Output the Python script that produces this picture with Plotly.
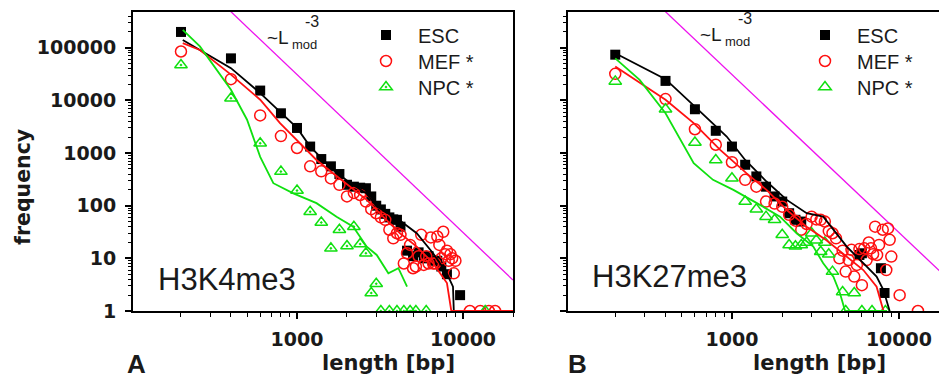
import plotly.graph_objects as go

W, H = 939, 378

# ---------------- Panel A : H3K4me3 ----------------
A_ESC_X = [200, 400, 600, 800, 1000, 1200, 1400, 1600, 1800, 2000, 2200, 2400, 2600, 2800, 3000,
           3200, 3400, 3600, 3800, 4000, 4200, 4600, 5000, 5400, 5800, 6200, 6600, 7000, 7400, 8000, 9600]
A_ESC_Y = [200000, 63000, 15400, 5700, 3000, 1330, 770, 560, 400, 250, 230, 220, 215, 150, 100,
           85, 70, 60, 55, 54, 40, 14, 11, 13, 10, 11, 9, 9, 7, 5, 2]

A_MEF_X = [200, 400, 600, 800, 1000, 1200, 1400, 1600, 1800, 2000, 2200, 2400, 2600, 2800, 3000,
           3200, 3400, 3600, 3800, 4000, 4200, 4400, 4600, 4800, 5000, 5200, 5400, 5600, 5800, 6000,
           6200, 6400, 6600, 6800, 7000, 7200, 7400, 7600, 7800, 8000, 8200, 8400, 8600, 8800, 9000,
           11000, 12700, 14300, 15600]
A_MEF_Y = [85000, 25400, 5200, 2100, 1250, 560, 450, 330, 250, 150, 175, 160, 120, 86, 72,
           60, 54, 35, 24, 30, 28, 8, 12.5, 18, 6.5, 7, 11, 28, 7.5, 11,
           8, 25, 8, 8, 26, 18, 10, 32, 12, 14, 9, 12, 10, 5.2, 9,
           1, 1, 1, 1]

A_NPC_X = [200, 400, 600, 800, 1000, 1200, 1400, 1600, 1800, 2000, 2200, 2400, 2600, 2800, 3000,
           3200, 3600, 4000, 4400, 4800, 5200, 6000, 13600]
A_NPC_Y = [47000, 11000, 1540, 445, 194, 77, 48, 15.5, 35, 17.2, 40, 18.7, 12.5, 2.2, 3.3,
           1, 1, 1, 1, 1, 1, 1, 1]

A_ESC_LX = [205, 260, 400, 600, 830, 1000, 1200, 1650, 2090, 2630, 3020, 4000, 5260, 6600, 7980, 8700, 8800]
A_ESC_LY = [141000, 91000, 41000, 13800, 5300, 3000, 1330, 480, 270, 170, 96, 58, 30, 12.5, 5.2, 2.9, 1]

A_MEF_LX = [205, 260, 400, 600, 790, 1000, 1310, 1650, 2090, 2630, 3300, 4170, 5260, 6600, 8000, 8500, 9500, 20000]
A_MEF_LY = [123000, 91000, 31000, 10300, 3700, 1780, 740, 415, 230, 129, 62, 30, 16.7, 8.1, 3.4, 1, 1, 1]

A_NPC_LX = [205, 260, 400, 500, 600, 720, 950, 1310, 1730, 2180, 2630, 3020, 3550, 4080, 4600]
A_NPC_LY = [219000, 106000, 15900, 4300, 850, 268, 172, 112, 62, 40, 16.7, 11.6, 5.2, 6.5, 2.9]

# ---------------- Panel B : H3K27me3 ----------------
B_ESC_X = [200, 400, 600, 800, 1000, 1200, 1400, 1600, 1800, 2000, 2200, 2400, 2600, 5800, 6000, 7800, 8200]
B_ESC_Y = [74000, 23500, 6800, 2650, 1330, 600, 360, 230, 150, 120, 72, 54, 50, 11.6, 12.5, 6.5, 2.2]

B_MEF_X = [200, 400, 600, 800, 1000, 1200, 1400, 1600, 1800, 2000, 2200, 2400, 2600, 2800, 3000,
           3200, 3400, 3600, 3800, 4000, 4200, 4400, 4600, 4800, 5000, 5200, 5400, 5600, 5800, 6000,
           6200, 6400, 6600, 6800, 7000, 7200, 7400, 7600, 8000, 8400, 8600, 8800, 9000, 10100, 13000]
B_MEF_Y = [32000, 10600, 2840, 1440, 670, 310, 230, 120, 110, 96, 67, 52, 35, 45, 62,
           55, 54, 50, 33, 30, 24, 10, 14, 5.6, 9.3, 14.5, 4.5, 7.5, 15, 3.1,
           15.5, 9.3, 20, 15.5, 12, 40, 11.6, 18, 35, 6, 37, 22.5, 10.8, 2, 1]

B_NPC_X = [200, 400, 600, 800, 1000, 1200, 1400, 1600, 1800, 2000, 2200, 2400, 2600, 2800, 3000,
           3200, 3400, 3600, 3800, 4000, 4600, 5400, 4800, 6000, 6900, 8300]
B_NPC_Y = [23000, 6800, 1590, 740, 333, 120, 86, 62, 54, 28, 18, 17, 18, 20, 30,
           22, 13.4, 20, 12, 5.6, 2.3, 2.2, 1, 1, 1, 1]

B_ESC_LX = [200, 400, 600, 930, 1200, 1610, 2130, 2800, 3520, 4230, 4870, 6120, 7350, 8080, 8800]
B_ESC_LY = [79000, 25400, 7600, 2060, 740, 288, 129, 72, 62, 30, 16.7, 8.1, 4.5, 2.5, 1]

B_MEF_LX = [200, 400, 590, 850, 1220, 1610, 2130, 2800, 3680, 4870, 6120, 7350, 8080]
B_MEF_LY = [44000, 10300, 3700, 1150, 415, 200, 83, 40, 22, 10.8, 6, 2.9, 1]

B_NPC_LX = [200, 280, 400, 490, 590, 770, 1020, 1410, 1940, 2440, 3070, 3520, 4050, 4430, 4760, 8500]
B_NPC_LY = [63000, 24600, 5700, 1780, 640, 310, 200, 112, 62, 30, 16.7, 8.1, 4.5, 2.2, 1, 1]

# guide line ~ L^-3
GUIDE_COEF = 3.1e13
GUIDE_X = [300, 400, 1000, 5000, 20000]
GUIDE_Y = [GUIDE_COEF * x ** -3 for x in GUIDE_X]

SERIES_NAMES = ["ESC", "MEF *", "NPC *"]
TICK_Y_VALS = [1, 10, 100, 1000, 10000, 100000]
TICK_Y_TEXT = ["1", "10", "100", "1000", "10000", "100000"]
TICK_X_VALS = [1000, 10000]
TICK_X_TEXT = ["1000", "10000"]

BLACK = "#000000"
RED = "#ff1010"
GREEN = "#10e010"
MAGENTA = "#ee11ee"

fig = go.Figure()


def add_panel(xa, ya, legends, esc, mef, npc, lines, tri_symbol):
    (ex, ey), (mx, my), (nx, ny) = esc, mef, npc
    fig.add_trace(go.Scatter(x=GUIDE_X, y=GUIDE_Y, mode="lines", xaxis=xa, yaxis=ya,
                             line=dict(color=MAGENTA, width=1.3), showlegend=False))
    fig.add_trace(go.Scatter(x=ex, y=ey, mode="markers", name=SERIES_NAMES[0], xaxis=xa, yaxis=ya,
                             legend=legends[0],
                             marker=dict(symbol="square", size=10, color=BLACK, line=dict(width=0))))
    fig.add_trace(go.Scatter(x=mx, y=my, mode="markers", name=SERIES_NAMES[1], xaxis=xa, yaxis=ya,
                             legend=legends[1],
                             marker=dict(symbol="circle-open", size=11, color=RED, line=dict(width=1.5, color=RED))))
    fig.add_trace(go.Scatter(x=nx, y=ny, mode="markers", name=SERIES_NAMES[2], xaxis=xa, yaxis=ya,
                             legend=legends[2],
                             marker=dict(symbol=tri_symbol, size=11, color=GREEN, line=dict(width=1.5, color=GREEN))))
    for (lx, ly), col in zip(lines, [BLACK, RED, GREEN]):
        fig.add_trace(go.Scatter(x=lx, y=ly, mode="lines", xaxis=xa, yaxis=ya, showlegend=False,
                                 line=dict(color=col, width=1.8)))


add_panel("x", "y", ["legend", "legend2", "legend3"],
          (A_ESC_X, A_ESC_Y), (A_MEF_X, A_MEF_Y), (A_NPC_X, A_NPC_Y),
          [(A_ESC_LX, A_ESC_LY), (A_MEF_LX, A_MEF_LY), (A_NPC_LX, A_NPC_LY)], "triangle-up-open-dot")
add_panel("x2", "y2", ["legend4", "legend5", "legend6"],
          (B_ESC_X, B_ESC_Y), (B_MEF_X, B_MEF_Y), (B_NPC_X, B_NPC_Y),
          [(B_ESC_LX, B_ESC_LY), (B_MEF_LX, B_MEF_LY), (B_NPC_LX, B_NPC_LY)], "triangle-up-open")

tick_font = dict(family="DejaVu Sans", size=19, color="#1a1a1a", weight="bold")
ydom = [1 - 311 / H, 1 - 12 / H]

common_x = dict(type="log", showgrid=False, zeroline=False, showline=True, linecolor=BLACK, linewidth=2,
                ticks="outside", ticklen=6, tickwidth=1.5, tickcolor=BLACK, automargin=False,
                tickvals=TICK_X_VALS, ticktext=TICK_X_TEXT, tickfont=tick_font, ticklabelstandoff=4,
                minor=dict(ticks="outside", ticklen=3.5, tickwidth=1.2, tickcolor=BLACK, dtick="D1", showgrid=False),
                mirror=True)
common_y = dict(type="log", showgrid=False, zeroline=False, showline=True, linecolor=BLACK, linewidth=2,
                ticks="outside", ticklen=6, tickwidth=1.5, tickcolor=BLACK, automargin=False,
                tickvals=TICK_Y_VALS, ticktext=TICK_Y_TEXT, tickfont=tick_font,
                minor=dict(ticks="outside", ticklen=3.5, tickwidth=1.2, tickcolor=BLACK, dtick="D1", showgrid=False),
                range=[0, 5.68], domain=ydom)

legend_font = dict(family="Liberation Sans", size=20, color="#1a1a1a")
IW = 54


def leg(xtext, ycenter):
    return dict(x=(xtext - IW - 10) / W, y=1 - ycenter / H, xanchor="left", yanchor="middle",
                bgcolor="rgba(0,0,0,0)", font=legend_font, itemwidth=IW)


fig.update_layout(
    template="none",
    autosize=False,
    width=W, height=H, margin=dict(l=0, r=0, t=0, b=0, pad=0, autoexpand=False),
    paper_bgcolor="white", plot_bgcolor="white",
    xaxis=dict(common_x, domain=[133 / W, 513 / W], range=[2.012, 4.301], anchor="y"),
    yaxis=dict(common_y, anchor="x", mirror=True, ticklabelstandoff=5),
    xaxis2=dict(common_x, domain=[568 / W, 1.0], range=[2.018, 4.24], anchor="y2"),
    yaxis2=dict(common_y, anchor="x2", mirror=False, showticklabels=False),
    legend=leg(418, 35), legend2=leg(418, 61), legend3=leg(418, 87),
    legend4=leg(857, 35), legend5=leg(857, 61), legend6=leg(857, 87),
    showlegend=True,
)


def ann(text, x, y, size, family="Liberation Sans", bold=False, angle=0, xanchor="center", yanchor="middle"):
    f = dict(family=family, size=size, color="#1a1a1a")
    if bold:
        f["weight"] = "bold"
    fig.add_annotation(text=text, x=x / W, y=1 - y / H, xref="paper", yref="paper", showarrow=False,
                       textangle=angle, xanchor=xanchor, yanchor=yanchor, font=f)


ann("frequency", 23, 187, 20.5, family="DejaVu Sans", bold=True, angle=-90)
ann("length [bp]", 388, 363, 21, family="DejaVu Sans", bold=True)
ann("length [bp]", 819, 363, 21, family="DejaVu Sans", bold=True)
ann("A", 136, 364, 26, bold=True)
ann("B", 577, 364, 26, bold=True)
ann("H3K4me3", 156, 279, 31, xanchor="left")
ann("H3K27me3", 590, 276, 31, xanchor="left")
# ~L_mod^-3 labels
for dx, dy in [(0, 0), (433, -3)]:
    ann("~L", 265 + dx, 37 + dy, 19, xanchor="left")
    ann("mod", 290 + dx, 44 + dy, 13, xanchor="left")
    ann("-3", 303 + dx, 21 + dy, 16, xanchor="left")

POST = (
    "document.documentElement.style.margin='0';"
    "document.documentElement.style.overflow='hidden';"
    "document.body.style.margin='0';"
    "document.body.style.overflow='hidden';"
    "document.body.style.height='378px';"
    "var gd=document.getElementById('{plot_id}');"
    "gd.style.position='absolute';gd.style.left='0px';gd.style.top='0px';"
)
fig.write_html("out.html", config={"displayModeBar": False, "responsive": False}, post_script=POST)
